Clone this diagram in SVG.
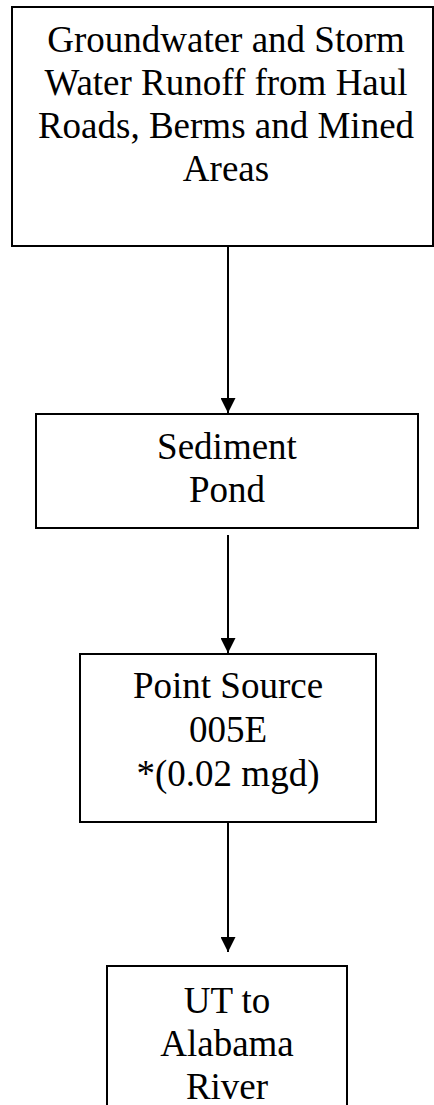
<svg xmlns="http://www.w3.org/2000/svg" width="434" height="1105" viewBox="0 0 434 1105">
<defs>
<style>
.box{fill:#fff;stroke:#000;stroke-width:2}
.t{font-family:'Liberation Serif','Times New Roman',serif;font-size:37px;fill:#000;text-anchor:middle}
.c{stroke:#000;stroke-width:2;fill:none}
</style>
<marker id="ah" markerWidth="15" markerHeight="15" refX="15" refY="7.5" orient="auto" markerUnits="userSpaceOnUse">
<path d="M0,0 L15,7.5 L0,15 Z" fill="#000"/>
</marker>
</defs>
<rect width="434" height="1105" fill="#fff"/>
<g id="node-source">
<rect class="box" x="12" y="7" width="421" height="239"/>
<text class="t" x="226" y="52">Groundwater and Storm</text>
<text class="t" x="226" y="95">Water Runoff from Haul</text>
<text class="t" x="226" y="138">Roads, Berms and Mined</text>
<text class="t" x="226" y="181">Areas</text>
</g>
<g id="node-pond">
<rect class="box" x="36" y="414" width="382" height="114"/>
<text class="t" x="227" y="459">Sediment</text>
<text class="t" x="227" y="502">Pond</text>
</g>
<g id="node-point">
<rect class="box" x="80" y="654" width="296" height="168"/>
<text class="t" x="228" y="698">Point Source</text>
<text class="t" x="228" y="742">005E</text>
<text class="t" x="228" y="786">*(0.02 mgd)</text>
</g>
<g id="node-river">
<rect class="box" x="107" y="966" width="240" height="150"/>
<text class="t" x="227" y="1013">UT to</text>
<text class="t" x="227" y="1056">Alabama</text>
<text class="t" x="227" y="1099">River</text>
</g>
<g id="connectors">
<line class="c" x1="228" y1="246" x2="228" y2="413" marker-end="url(#ah)"/>
<line class="c" x1="228" y1="535" x2="228" y2="653" marker-end="url(#ah)"/>
<line class="c" x1="228" y1="822" x2="228" y2="952" marker-end="url(#ah)"/>
</g>
</svg>
